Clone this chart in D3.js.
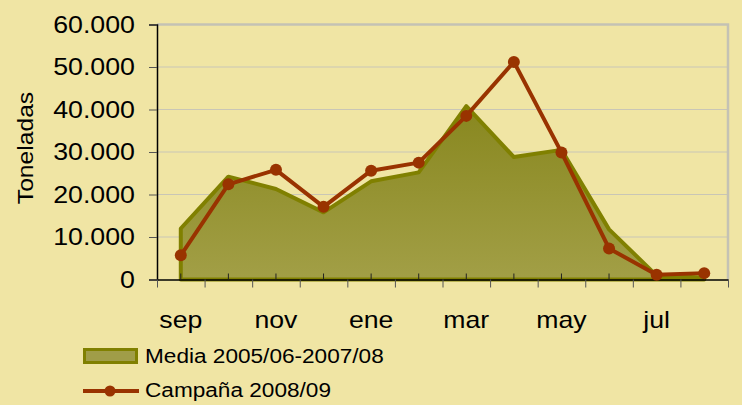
<!DOCTYPE html>
<html>
<head>
<meta charset="utf-8">
<script src="https://cdn.jsdelivr.net/npm/d3@7/dist/d3.min.js"></script>
<style>
  html, body { margin: 0; padding: 0; background: #f0e5a4; }
  text { font-family: "Liberation Sans", Arial, sans-serif; fill: #000; }
</style>
</head>
<body>
<div id="chart"></div>
<script>
// months of the campaign (sep -> ago)
const months = ['sep', 'oct', 'nov', 'dic', 'ene', 'feb', 'mar', 'abr', 'may', 'jun', 'jul', 'ago'];
// tonnes, average of 2005/06-2007/08
const media = [12000, 24200, 21300, 15800, 23100, 25200, 40800, 28800, 30500, 11800, 900, 500];
// tonnes, campaign 2008/09
const campana = [5700, 22400, 25800, 17100, 25600, 27500, 38500, 51200, 29900, 7300, 1100, 1500];
const yTicks = [0, 10000, 20000, 30000, 40000, 50000, 60000];
const seriesNames = ['Media 2005/06-2007/08', 'Campaña 2008/09'];

const width = 742;
const height = 405;
const plot = { left: 157, right: 728, top: 24.5, bottom: 279.5 };

const es = d3.formatLocale({ decimal: ',', thousands: '.', grouping: [3], currency: ['', ' €'] });
const fmt = es.format(',.0f');

// the original text is a little wider than plain Arial
function stretch(sel, k) {
  sel.each(function() {
    const w = this.getComputedTextLength();
    d3.select(this)
      .attr('textLength', w * k)
      .attr('lengthAdjust', 'spacingAndGlyphs');
  });
}

const svg = d3.select('#chart')
  .append('svg')
  .attr('width', width)
  .attr('height', height);

svg.append('rect')
  .attr('width', width)
  .attr('height', height)
  .attr('fill', '#f0e5a4');

const defs = svg.append('defs');
const grad = defs.append('linearGradient')
  .attr('id', 'areaFill')
  .attr('gradientUnits', 'userSpaceOnUse')
  .attr('x1', 0).attr('y1', plot.top)
  .attr('x2', 0).attr('y2', plot.bottom);
grad.append('stop').attr('offset', '0%').attr('stop-color', '#7c7c0c');
grad.append('stop').attr('offset', '100%').attr('stop-color', '#a29f46');

const x = d3.scaleBand()
  .domain(months)
  .range([plot.left, plot.right])
  .padding(0);
const cx = m => x(m) + x.bandwidth() / 2;

// boundaries between categories, for the outer tick marks
const xEdge = d3.scaleLinear()
  .domain([0, months.length])
  .range([plot.left, plot.right]);

const y = d3.scaleLinear()
  .domain([0, 60000])
  .range([plot.bottom, plot.top]);

// Gridlines
svg.append('g')
  .selectAll('line')
  .data(yTicks.filter(t => t > 0 && t < 60000))
  .join('line')
  .attr('x1', plot.left)
  .attr('x2', plot.right)
  .attr('y1', d => y(d))
  .attr('y2', d => y(d))
  .attr('stroke', '#c9c6b6')
  .attr('stroke-width', 1);

// Plot border (top and right)
svg.append('path')
  .attr('d', `M ${plot.left},${y(60000)} H ${plot.right} V ${plot.bottom}`)
  .attr('fill', 'none')
  .attr('stroke', '#c4c2b4')
  .attr('stroke-width', 2.5);

// Media area
const area = d3.area()
  .x((d, i) => cx(months[i]))
  .y0(y(0))
  .y1(d => y(d));

svg.append('path')
  .datum(media)
  .attr('d', area)
  .attr('fill', 'url(#areaFill)')
  .attr('stroke', '#808000')
  .attr('stroke-width', 4)
  .attr('stroke-linejoin', 'round');

// Y axis
const yAxis = svg.append('g')
  .attr('transform', `translate(${plot.left},0)`)
  .call(d3.axisLeft(y).tickValues(yTicks).tickFormat(fmt).tickSize(8).tickPadding(14));
yAxis.select('.domain').attr('stroke', '#000').attr('stroke-width', 1.5);
yAxis.selectAll('.tick line').attr('stroke', '#555');
yAxis.selectAll('text')
  .style('font-size', '24px')
  .style('font-family', '"Liberation Sans", Arial, sans-serif')
  .attr('fill', '#000')
  .call(stretch, 1.115);

// X axis: outer ticks at category boundaries
const xEdgeAxis = svg.append('g')
  .attr('transform', `translate(0,${plot.bottom})`)
  .call(d3.axisBottom(xEdge).tickValues(d3.range(months.length + 1)).tickFormat('').tickSize(8).tickSizeOuter(0));
xEdgeAxis.select('.domain').attr('stroke', '#000').attr('stroke-width', 1.5);
xEdgeAxis.selectAll('.tick line').attr('stroke', '#555');

// X axis: short inner ticks at category centres plus month labels
const xAxis = svg.append('g')
  .attr('transform', `translate(0,${plot.bottom})`)
  .call(d3.axisBottom(x).tickSize(-6).tickSizeOuter(0).tickPadding(31)
    .tickFormat((d, i) => i % 2 === 0 ? d : ''));
xAxis.select('.domain').remove();
xAxis.selectAll('.tick line').attr('stroke', '#222');
xAxis.selectAll('text')
  .style('font-size', '24px')
  .style('font-family', '"Liberation Sans", Arial, sans-serif')
  .attr('fill', '#000')
  .filter(function() { return this.textContent !== ''; })
  .call(stretch, 1.11);

// Campaña line and points
const line = d3.line()
  .x((d, i) => cx(months[i]))
  .y(d => y(d));

svg.append('path')
  .datum(campana)
  .attr('d', line)
  .attr('fill', 'none')
  .attr('stroke', '#993300')
  .attr('stroke-width', 4)
  .attr('stroke-linejoin', 'round');

svg.append('g')
  .selectAll('circle')
  .data(campana)
  .join('circle')
  .attr('cx', (d, i) => cx(months[i]))
  .attr('cy', d => y(d))
  .attr('r', 6)
  .attr('fill', '#993300');

// Y axis title
svg.append('text')
  .attr('transform', 'translate(33,148) rotate(-90)')
  .attr('text-anchor', 'middle')
  .style('font-size', '22px')
  .text('Toneladas')
  .call(stretch, 1.12);

// Legend
const legend = svg.append('g');

legend.append('rect')
  .attr('x', 84.5)
  .attr('y', 349.5)
  .attr('width', 52)
  .attr('height', 13)
  .attr('fill', '#a09d48')
  .attr('stroke', '#808000')
  .attr('stroke-width', 3);

legend.append('line')
  .attr('x1', 83)
  .attr('x2', 139)
  .attr('y1', 391)
  .attr('y2', 391)
  .attr('stroke', '#993300')
  .attr('stroke-width', 4);

legend.append('circle')
  .attr('cx', 110)
  .attr('cy', 391)
  .attr('r', 5.5)
  .attr('fill', '#993300');

legend.selectAll('text.leg')
  .data(seriesNames)
  .join('text')
  .attr('class', 'leg')
  .attr('x', 145)
  .attr('y', (d, i) => 363 + i * 33.5)
  .style('font-size', '20px')
  .text(d => d)
  .call(stretch, 1.13);
</script>
</body>
</html>
